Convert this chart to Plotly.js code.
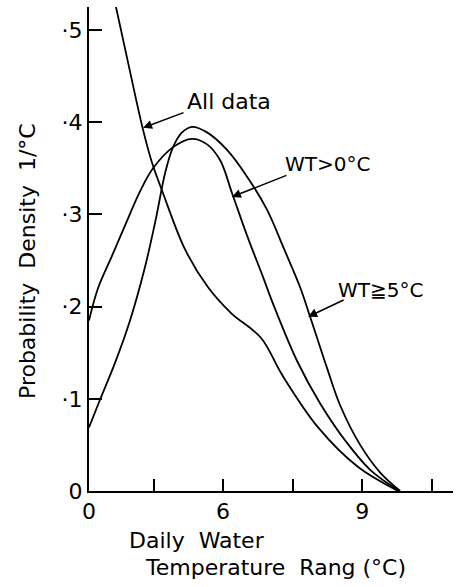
<!DOCTYPE html>
<html>
<head>
<meta charset="utf-8">
<script src="https://cdn.plot.ly/plotly-3.0.1.min.js"></script>
<style>html,body{margin:0;padding:0;background:#fff;}#chart{width:462px;height:587px;}</style>
</head>
<body>
<div id="chart"></div>
<script>
// Daily water temperature range (°C) vs probability density (1/°C)
const allDataX = [3.690, 3.971, 4.273, 4.468, 4.705, 5.180, 5.676, 6.173, 6.820, 7.273, 8.050, 8.914, 9.777];
const allDataY = [0.525, 0.460, 0.392, 0.356, 0.323, 0.262, 0.221, 0.193, 0.166, 0.126, 0.069, 0.026, 0.000];

const wt0X = [3.108, 3.302, 3.604, 3.928, 4.209, 4.489, 4.921, 5.331, 5.655, 5.935, 6.194, 6.518, 6.863, 7.079, 7.597, 8.094, 8.676, 9.173, 9.800];
const wt0Y = [0.185, 0.220, 0.255, 0.293, 0.325, 0.350, 0.373, 0.382, 0.376, 0.359, 0.323, 0.277, 0.232, 0.203, 0.141, 0.095, 0.052, 0.023, 0.000];

const wt5X = [3.108, 3.345, 3.669, 3.993, 4.316, 4.550, 4.750, 4.921, 5.115, 5.331, 5.655, 6.086, 6.518, 6.950, 7.295, 7.662, 7.878, 8.245, 8.525, 8.957, 9.389, 9.820];
const wt5Y = [0.069, 0.099, 0.139, 0.185, 0.243, 0.295, 0.345, 0.373, 0.389, 0.395, 0.389, 0.370, 0.341, 0.305, 0.265, 0.221, 0.189, 0.133, 0.093, 0.050, 0.020, 0.000];

const xTickVals = [3.108, 4.5, 6, 7.5, 9, 10.5];
const xTickText = ["0", "", "6", "", "9", ""];
const yTickVals = [0, 0.1, 0.2, 0.3, 0.4, 0.5];
const yTickText = ["0", "·1", "·2", "·3", "·4", "·5"];

const FONT = "DejaVu Sans";
const lineStyle = {color: "#000", width: 1.8, shape: "spline", smoothing: 1};

const traces = [
  {x: allDataX, y: allDataY, mode: "lines", line: lineStyle, name: "All data", hoverinfo: "skip"},
  {x: wt0X, y: wt0Y, mode: "lines", line: lineStyle, name: "WT>0°C", hoverinfo: "skip"},
  {x: wt5X, y: wt5Y, mode: "lines", line: lineStyle, name: "WT≧5°C", hoverinfo: "skip"}
];

const arrow = (x, y, ax, ay) => ({
  x: x, y: y, ax: ax, ay: ay, xref: "x", yref: "y", axref: "x", ayref: "y",
  text: "", showarrow: true, arrowhead: 2, arrowsize: 1.2, arrowwidth: 1.5, arrowcolor: "#000"
});
const label = (x, y, text, size) => ({
  x: x, y: y, xref: "x", yref: "y", text: text, showarrow: false,
  font: {family: FONT, size: size, color: "#000"}, xanchor: "center", yanchor: "middle"
});

const layout = {
  width: 462, height: 587,
  margin: {l: 89, r: 9, t: 7, b: 96},
  paper_bgcolor: "#fff", plot_bgcolor: "#fff",
  showlegend: false,
  font: {family: FONT, size: 22, color: "#000"},
  xaxis: {
    range: [3.108, 10.96], showgrid: false, zeroline: false,
    showline: true, linecolor: "#000", linewidth: 2,
    ticks: "inside", ticklen: 12, tickwidth: 2, tickcolor: "#000",
    tickvals: xTickVals, ticktext: xTickText, ticklabelstandoff: 0,
    tickfont: {family: FONT, size: 22, color: "#000"}
  },
  yaxis: {
    range: [0, 0.525], showgrid: false, zeroline: false,
    showline: true, linecolor: "#000", linewidth: 2,
    ticks: "inside", ticklen: 13, tickwidth: 2, tickcolor: "#000",
    tickvals: yTickVals, ticktext: yTickText, ticklabelstandoff: 0,
    tickfont: {family: FONT, size: 22, color: "#000"}
  },
  annotations: [
    label(6.13, 0.423, "All data", 22),
    arrow(4.273, 0.394, 5.18, 0.411),
    label(8.245, 0.355, "WT>0°C", 20),
    arrow(6.19, 0.319, 7.40, 0.343),
    label(9.39, 0.218, "WT≧5°C", 20),
    arrow(7.835, 0.189, 8.633, 0.208),
    {xref: "paper", yref: "paper", x: (127 - 89) / 364, y: (491 - 540) / 484, xanchor: "left", yanchor: "middle",
     text: "Daily\u00a0 Water", showarrow: false, font: {family: FONT, size: 22, color: "#000"}},
    {xref: "paper", yref: "paper", x: (143 - 89) / 364, y: (491 - 567) / 484, xanchor: "left", yanchor: "middle",
     text: "Temperature\u00a0 Rang (°C)", showarrow: false, font: {family: FONT, size: 22, color: "#000"}},
    {xref: "paper", yref: "paper", x: (27 - 89) / 364, y: (491 - 261) / 484, xanchor: "center", yanchor: "middle",
     textangle: -90, text: "Probability\u00a0 Density\u00a0 1/°C", showarrow: false, font: {family: FONT, size: 22, color: "#000"}}
  ]
};

Plotly.newPlot("chart", traces, layout, {staticPlot: true, displayModeBar: false});
</script>
</body>
</html>
